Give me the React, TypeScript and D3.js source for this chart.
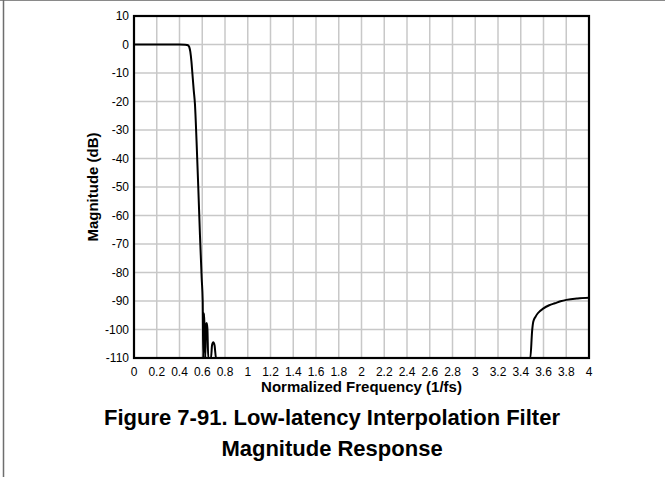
import React from 'react';
import * as d3 from 'd3';

// Normalized frequency (1/fs) and magnitude (dB)
const freq = [
  0, 0.1, 0.2, 0.3, 0.4, 0.45, 0.465, 0.478, 0.486, 0.495, 0.505, 0.513, 0.525,
  0.536, 0.55, 0.565, 0.58, 0.595, 0.604, 0.609,
  0.615, 0.62, 0.627, 0.633, 0.639, 0.645, 0.653,
  0.677, 0.686, 0.697, 0.708, 0.721,
  1.0, 2.0, 3.0, 3.484,
  3.5, 3.51, 3.53, 3.55, 3.6, 3.65, 3.7, 3.75, 3.8, 3.9, 4.0,
];
const magDb = [
  0, 0, 0, 0, 0, -0.05, -0.15, -0.4, -0.9, -2.5, -6, -10, -16,
  -21, -34, -50, -67, -82, -90, -110,
  -94.3, -99, -110, -98.5, -97.7, -99.5, -110,
  -110, -105.5, -104.5, -105.5, -110,
  -110, -110, -110, -110,
  -100.5, -97.3, -95.5, -94.3, -92.6, -91.5, -90.8, -90.1, -89.6, -89.1, -88.9,
];

const xTicks = [0, 0.2, 0.4, 0.6, 0.8, 1, 1.2, 1.4, 1.6, 1.8, 2, 2.2, 2.4, 2.6, 2.8, 3, 3.2, 3.4, 3.6, 3.8, 4];
const yTicks = [10, 0, -10, -20, -30, -40, -50, -60, -70, -80, -90, -100, -110];

const xLabel = 'Normalized Frequency (1/fs)';
const yLabel = 'Magnitude (dB)';
const captionLines = ['Figure 7-91. Low-latency Interpolation Filter', 'Magnitude Response'];

export default function App() {
  const W = 665;
  const H = 477;
  const L = 134, R = 589, T = 16, B = 358;
  const x = d3.scaleLinear().domain([0, 4]).range([L, R]);
  const y = d3.scaleLinear().domain([-110, 10]).range([B, T]);
  const pts: [number, number][] = freq.map((f, i) => [f, magDb[i]]);
  const line = d3.line<[number, number]>().x(d => x(d[0])).y(d => y(d[1])).curve(d3.curveMonotoneX);
  const fmt = (v: number) => String(+v.toFixed(1));
  const font = '"Liberation Sans", Arial, Helvetica, sans-serif';

  return (
    <svg width={W} height={H} viewBox={`0 0 ${W} ${H}`}
      style={{ position: 'absolute', left: 0, top: 0, background: '#fff', fontFamily: font }}>
      <rect x={0} y={0} width={W} height={H} fill="#fff" />
      {/* outer frame lines */}
      <line x1={0} x2={W} y1={0.5} y2={0.5} stroke="#8a8a8a" strokeWidth={1} />
      <line x1={3.5} x2={3.5} y1={0} y2={H} stroke="#6e6e6e" strokeWidth={1.5} />
      <defs>
        <clipPath id="plotClip">
          <rect x={L} y={T} width={R - L} height={B - T} />
        </clipPath>
      </defs>
      {/* grid */}
      {xTicks.map(t => (
        <line key={'gx' + t} x1={x(t)} x2={x(t)} y1={T} y2={B} stroke="#c8c8c8" strokeWidth={1.5} />
      ))}
      {yTicks.map(t => (
        <line key={'gy' + t} x1={L} x2={R} y1={y(t)} y2={y(t)} stroke="#c8c8c8" strokeWidth={1.5} />
      ))}
      {/* curve */}
      <path d={line(pts) || ''} fill="none" stroke="#000" strokeWidth={2} strokeLinejoin="round" clipPath="url(#plotClip)" />
      {/* frame */}
      <rect x={L} y={T} width={R - L} height={B - T} fill="none" stroke="#000" strokeWidth={2.2} />
      {/* y tick labels */}
      {yTicks.map(t => (
        <text key={'ty' + t} x={L - 5} y={y(t)} dy="0.35em" textAnchor="end" fontSize={12} fill="#000">{t}</text>
      ))}
      {/* x tick labels */}
      {xTicks.map(t => (
        <text key={'tx' + t} x={x(t)} y={376} textAnchor="middle" fontSize={12} fill="#000">{fmt(t)}</text>
      ))}
      <text x={(L + R) / 2} y={392} textAnchor="middle" fontSize={15} fontWeight="bold" fill="#000">{xLabel}</text>
      <text transform={`translate(98,${(T + B) / 2}) rotate(-90)`} textAnchor="middle" fontSize={15} fontWeight="bold" fill="#000">{yLabel}</text>
      {captionLines.map((c, i) => (
        <text key={c} x={332} y={425 + i * 31} textAnchor="middle" fontSize={22} fontWeight="bold" fill="#000">{c}</text>
      ))}
    </svg>
  );
}
